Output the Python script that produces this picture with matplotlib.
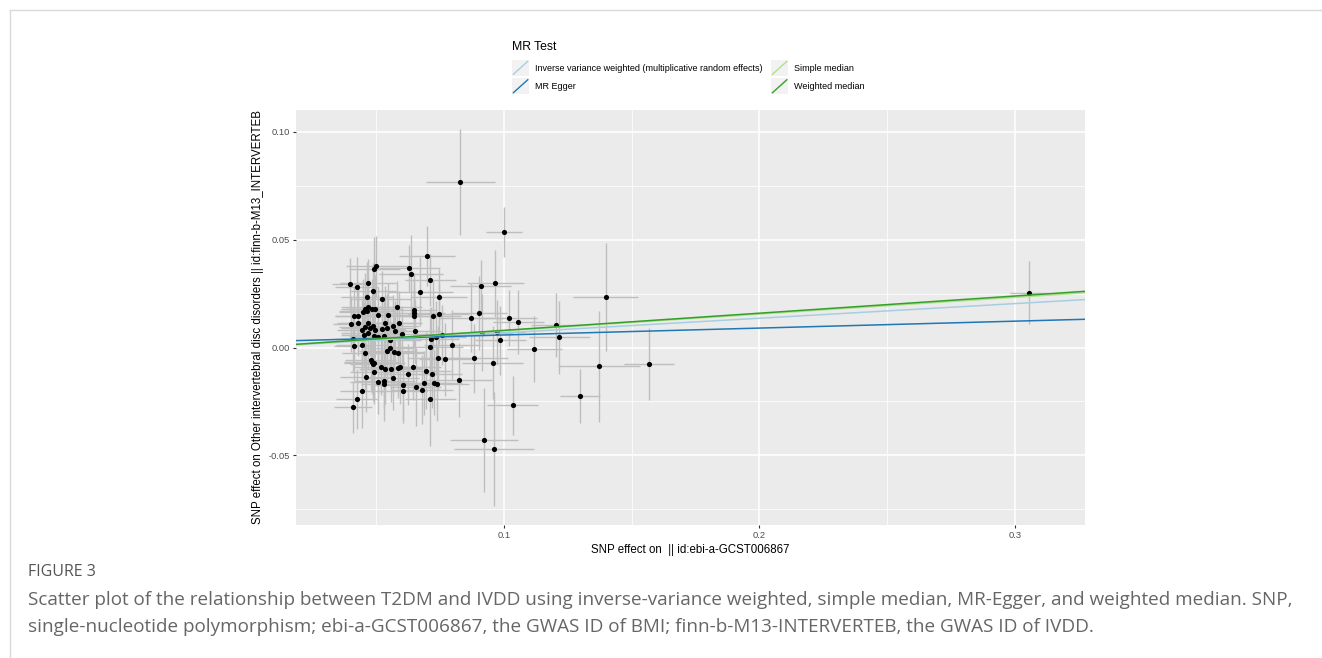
import matplotlib
matplotlib.use("Agg")
import matplotlib.pyplot as plt
from matplotlib.lines import Line2D
from matplotlib.patches import Rectangle
from matplotlib.legend_handler import HandlerBase

# ---------------- data ----------------
snp_x = [0.0397, 0.0423, 0.0469, 0.0492, 0.0500, 0.0488, 0.0464, 0.0521, 0.0581, 0.0469,
         0.0629, 0.0635, 0.0700, 0.0712, 0.0672, 0.0746, 0.0649, 0.0649, 0.0648, 0.0722,
         0.0744, 0.0653,
         0.0449, 0.0463, 0.0456, 0.0482, 0.0495, 0.0508, 0.0547, 0.0413, 0.0430, 0.0401,
         0.0430, 0.0469, 0.0534, 0.0567, 0.0590, 0.0456, 0.0476, 0.0486, 0.0443, 0.0469,
         0.0495, 0.0521, 0.0542, 0.0573, 0.0600, 0.0453, 0.0492, 0.0508, 0.0532, 0.0408,
         0.0554, 0.0413, 0.0443, 0.0456, 0.0541, 0.0554, 0.0571, 0.0586,
         0.0482, 0.0486, 0.0478, 0.0493, 0.0492, 0.0519, 0.0534, 0.0558, 0.0586, 0.0593,
         0.0460, 0.0506, 0.0532, 0.0530, 0.0567, 0.0625, 0.0604, 0.0604, 0.0445, 0.0423,
         0.0410,
         0.0713, 0.0733, 0.0756, 0.0709, 0.0798, 0.0742, 0.0769, 0.0884, 0.0645, 0.0694,
         0.0717, 0.0825, 0.0686, 0.0654, 0.0679, 0.0727, 0.0739, 0.0712,
         0.0829, 0.0999, 0.1398, 0.1204, 0.1216, 0.1119, 0.1021, 0.1056, 0.0966, 0.0909,
         0.0903, 0.0871, 0.0986, 0.0914, 0.0973, 0.0956, 0.0922, 0.0960, 0.1034, 0.1297,
         0.1373, 0.1569, 0.3056]
snp_y = [0.0293, 0.0279, 0.0300, 0.0363, 0.0376, 0.0263, 0.0235, 0.0223, 0.0189, 0.0189,
         0.0367, 0.0340, 0.0425, 0.0314, 0.0258, 0.0235, 0.0174, 0.0161, 0.0147, 0.0147,
         0.0155, 0.0076,
         0.0166, 0.0169, 0.0177, 0.0177, 0.0177, 0.0150, 0.0150, 0.0144, 0.0144, 0.0109,
         0.0112, 0.0115, 0.0115, 0.0101, 0.0112, 0.0096, 0.0092, 0.0100, 0.0081, 0.0066,
         0.0081, 0.0084, 0.0090, 0.0076, 0.0061, 0.0059, 0.0053, 0.0050, 0.0055, 0.0038,
         0.0035, 0.0008, 0.0013, -0.0027, -0.0015, -0.0004, -0.0019, -0.0027,
         -0.0066, -0.0076, -0.0058, -0.0074, -0.0112, -0.0089, -0.0100, -0.0101, -0.0096, -0.0092,
         -0.0137, -0.0158, -0.0154, -0.0170, -0.0140, -0.0124, -0.0174, -0.0200, -0.0201, -0.0238,
         -0.0277,
         0.0039, 0.0047, 0.0059, 0.0002, 0.0012, -0.0049, -0.0055, -0.0049, -0.0092, -0.0107,
         -0.0121, -0.0150, -0.0164, -0.0184, -0.0195, -0.0163, -0.0169, -0.0238,
         0.0768, 0.0536, 0.0234, 0.0104, 0.0047, -0.0007, 0.0135, 0.0118, 0.0297, 0.0283,
         0.0160, 0.0138, 0.0033, 0.0069, 0.0070, -0.0070, -0.0428, -0.0470, -0.0268, -0.0225,
         -0.0087, -0.0076, 0.0254]
se_x = [0.0070, 0.0085, 0.0110, 0.0100, 0.0120, 0.0090, 0.0100, 0.0115, 0.0100, 0.0105,
        0.0120, 0.0125, 0.0110, 0.0100, 0.0130, 0.0110, 0.0090, 0.0120, 0.0100, 0.0110,
        0.0120, 0.0100,
        0.0095, 0.0110, 0.0080, 0.0120, 0.0100, 0.0090, 0.0130, 0.0075, 0.0090, 0.0070,
        0.0085, 0.0110, 0.0120, 0.0100, 0.0090, 0.0100, 0.0115, 0.0080, 0.0095, 0.0105,
        0.0120, 0.0090, 0.0110, 0.0100, 0.0125, 0.0090, 0.0100, 0.0110, 0.0085, 0.0075,
        0.0120, 0.0080, 0.0100, 0.0090, 0.0110, 0.0095, 0.0120, 0.0100,
        0.0110, 0.0090, 0.0100, 0.0120, 0.0095, 0.0110, 0.0100, 0.0120, 0.0090, 0.0105,
        0.0100, 0.0110, 0.0120, 0.0090, 0.0100, 0.0115, 0.0110, 0.0095, 0.0085, 0.0080,
        0.0075,
        0.0110, 0.0120, 0.0100, 0.0130, 0.0110, 0.0120, 0.0100, 0.0130, 0.0110, 0.0100,
        0.0120, 0.0130, 0.0110, 0.0100, 0.0120, 0.0110, 0.0125, 0.0100,
        0.0136, 0.0071, 0.0127, 0.0100, 0.0120, 0.0107, 0.0110, 0.0100, 0.0111, 0.0120,
        0.0110, 0.0125, 0.0100, 0.0120, 0.0110, 0.0120, 0.0133, 0.0157, 0.0100, 0.0077,
        0.0160, 0.0098, 0.0077]
se_y = [0.0120, 0.0140, 0.0110, 0.0150, 0.0140, 0.0130, 0.0160, 0.0130, 0.0120, 0.0140,
        0.0110, 0.0180, 0.0140, 0.0120, 0.0160, 0.0130, 0.0170, 0.0150, 0.0130, 0.0160,
        0.0140, 0.0150,
        0.0150, 0.0130, 0.0170, 0.0140, 0.0160, 0.0130, 0.0150, 0.0140, 0.0160, 0.0130,
        0.0150, 0.0120, 0.0170, 0.0140, 0.0150, 0.0160, 0.0130, 0.0150, 0.0140, 0.0170,
        0.0130, 0.0150, 0.0160, 0.0140, 0.0130, 0.0150, 0.0170, 0.0140, 0.0160, 0.0150,
        0.0130, 0.0160, 0.0140, 0.0170, 0.0150, 0.0130, 0.0160, 0.0140,
        0.0150, 0.0170, 0.0140, 0.0160, 0.0150, 0.0130, 0.0160, 0.0150, 0.0140, 0.0170,
        0.0160, 0.0150, 0.0130, 0.0170, 0.0150, 0.0140, 0.0160, 0.0150, 0.0170, 0.0140,
        0.0120,
        0.0150, 0.0170, 0.0140, 0.0180, 0.0160, 0.0150, 0.0170, 0.0160, 0.0150, 0.0180,
        0.0160, 0.0170, 0.0150, 0.0180, 0.0160, 0.0150, 0.0170, 0.0220,
        0.0245, 0.0116, 0.0250, 0.0150, 0.0170, 0.0155, 0.0130, 0.0150, 0.0154, 0.0122,
        0.0170, 0.0160, 0.0160, 0.0180, 0.0150, 0.0170, 0.0240, 0.0265, 0.0137, 0.0124,
        0.0256, 0.0167, 0.0145]

methods = ["Inverse variance weighted (multiplicative random effects)", "MR Egger",
           "Simple median", "Weighted median"]
method_slope = [0.0678, 0.0320, 0.0775, 0.0795]
method_intercept = [0.0, 0.0026, 0.0, 0.0]
method_colors = ["#A6CEE3", "#1F78B4", "#B2DF8A", "#33A02C"]

x_ticks = [0.1, 0.2, 0.3]
x_ticklabels = ["0.1", "0.2", "0.3"]
y_ticks = [-0.05, 0.0, 0.05, 0.10]
y_ticklabels = ["-0.05", "0.00", "0.05", "0.10"]
x_minor = [0.05, 0.15, 0.25]
y_minor = [-0.075, -0.025, 0.025, 0.075]

# ---------------- figure ----------------
plt.rcParams['font.family'] = ['Liberation Sans', 'DejaVu Sans']
W, H = 1322, 658
fig = plt.figure(figsize=(W / 100, H / 100), dpi=100)
fig.patch.set_facecolor("white")

ax = fig.add_axes([296 / W, 1 - 525 / H, (1085 - 296) / W, (525 - 110) / H])
ax.set_facecolor("#EBEBEB")
for s in ax.spines.values():
    s.set_visible(False)

ax.set_xlim(0.0186, 0.3274)
ax.set_ylim(-0.0822, 0.1100)
ax.set_xticks(x_ticks)
ax.set_xticklabels(x_ticklabels)
ax.set_yticks(y_ticks)
ax.set_yticklabels(y_ticklabels)
ax.set_xticks(x_minor, minor=True)
ax.set_yticks(y_minor, minor=True)
ax.grid(which="major", color="white", linewidth=1.1)
ax.grid(which="minor", color="white", linewidth=0.55)
ax.set_axisbelow(True)
ax.tick_params(which="major", length=2.5, width=0.8, color="#333333",
               labelsize=6.7, labelcolor="#4D4D4D", pad=2)
ax.tick_params(which="minor", length=0)

ax.errorbar(snp_x, snp_y, xerr=se_x, yerr=se_y, fmt="none",
            ecolor="#BEBEBE", elinewidth=1.0, capsize=0, zorder=2)
ax.scatter(snp_x, snp_y, s=14, color="black", zorder=3, linewidths=0)

for m, b, c in zip(method_slope, method_intercept, method_colors):
    ax.axline((0, b), slope=m, color=c, linewidth=1.1, zorder=4)

ax.set_xlabel("SNP effect on  || id:ebi-a-GCST006867", fontsize=8.3, labelpad=3)
ax.set_ylabel("SNP effect on Other intervertebral disc disorders || id:finn-b-M13_INTERVERTEB",
              fontsize=8.3, labelpad=3)


class DiagHandler(HandlerBase):
    def create_artists(self, legend, orig_handle, xdescent, ydescent, width, height,
                       fontsize, trans):
        rect = Rectangle((-xdescent, -ydescent), width, height, facecolor="#F2F2F2",
                         edgecolor="none", transform=trans)
        ln = Line2D([-xdescent + 1, -xdescent + width - 1],
                    [-ydescent + 1, -ydescent + height - 1],
                    color=orig_handle.get_color(), linewidth=1.0, transform=trans)
        return [rect, ln]


handles = [Line2D([], [], color=c) for c in method_colors]
leg = fig.legend(handles, methods, loc="upper left",
                 bbox_to_anchor=(512 / W, 1 - 41 / H), ncol=2, frameon=False,
                 fontsize=6.5, title="MR Test", title_fontsize=8.8,
                 handler_map={Line2D: DiagHandler()}, handlelength=1.9,
                 handleheight=2.3, handletextpad=0.65, columnspacing=0.95,
                 labelspacing=0.3, borderpad=0, borderaxespad=0, alignment="left")
leg._legend_box.sep = 5

# ---------------- page frame & caption ----------------
fig.add_artist(Line2D([10 / W, 1], [1 - 10 / H, 1 - 10 / H], color="#D9D9D9", linewidth=1))
fig.add_artist(Line2D([10 / W, 10 / W], [1 - 10 / H, 0], color="#D9D9D9", linewidth=1))

fig.text(28 / W, 1 - 572 / H, "FIGURE 3", fontsize=11.5, color="#555555",
         family=["Open Sans", "DejaVu Sans"], va="center", ha="left")
fig.text(28 / W, 1 - 600 / H,
         "Scatter plot of the relationship between T2DM and IVDD using inverse-variance weighted, "
         "simple median, MR-Egger, and weighted median. SNP,",
         fontsize=13.6, color="#666666", family=["Open Sans", "DejaVu Sans"],
         va="center", ha="left")
fig.text(28 / W, 1 - 627 / H,
         "single-nucleotide polymorphism; ebi-a-GCST006867, the GWAS ID of BMI; "
         "finn-b-M13-INTERVERTEB, the GWAS ID of IVDD.",
         fontsize=13.6, color="#666666", family=["Open Sans", "DejaVu Sans"],
         va="center", ha="left")

fig.savefig("out.png", dpi=100, facecolor="white")
